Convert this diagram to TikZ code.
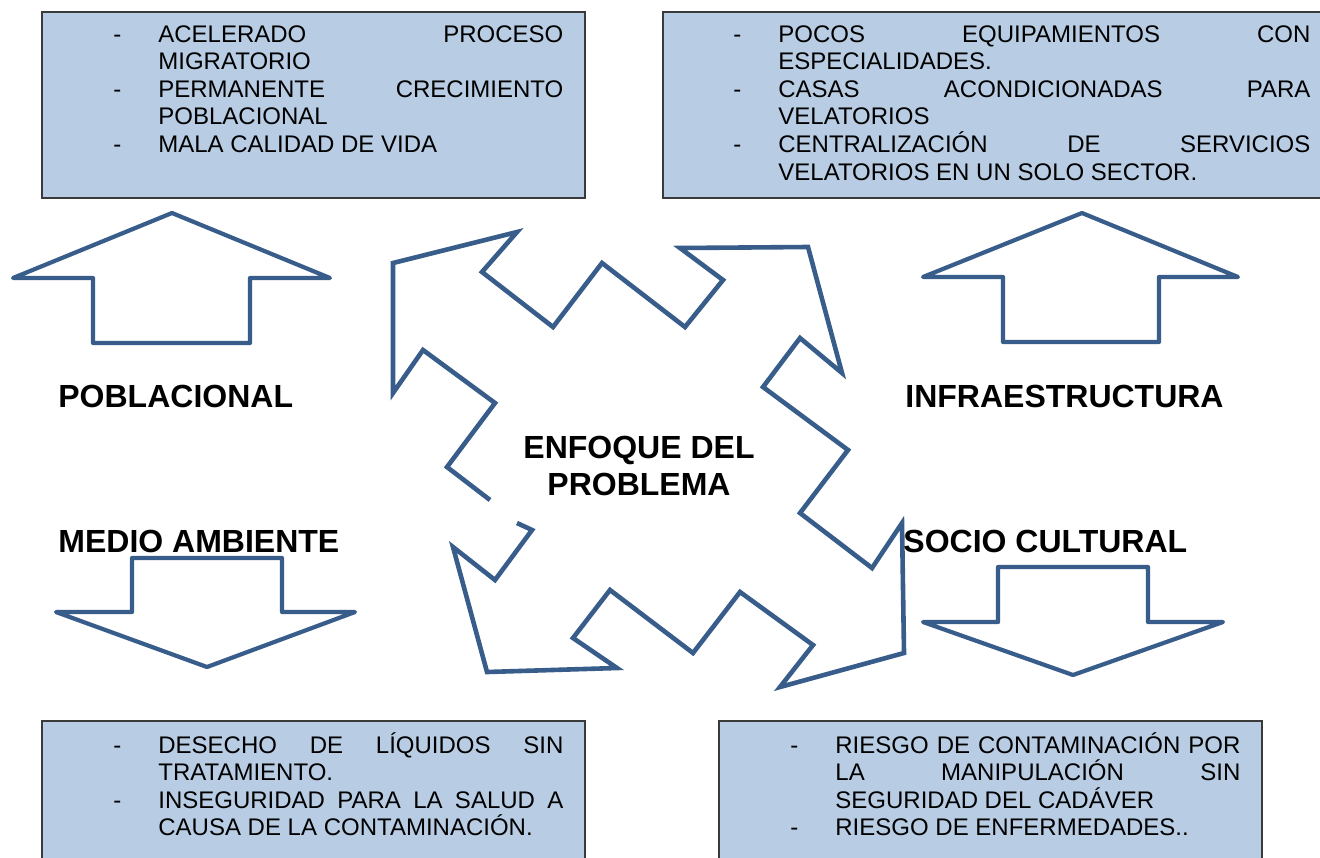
\documentclass[tikz,border=0pt]{standalone}
\usepackage{fontspec}
\setmainfont{Liberation Sans}
\definecolor{boxfill}{HTML}{B8CCE4}
\definecolor{starblue}{HTML}{385D8A}
\definecolor{boxline}{HTML}{3A3A3A}
\newcommand{\dashitem}{\par\noindent\hangindent=22.5pt\hangafter=1\makebox[22.5pt][l]{-}}
\newcommand{\looselines}{\tolerance=10000\relax\hyphenpenalty=10000\relax}
\begin{document}
\begin{tikzpicture}[x=0.5pt, y=-0.5pt,
    starline/.style={draw=starblue, line width=2.3pt, line join=miter},
    blockarrow/.style={draw=starblue, fill=white, line width=2.1pt, line join=round},
    infobox/.style={fill=boxfill, draw=boxline, line width=0.6pt},
    boxtext/.style={anchor=base west, inner sep=0pt, align=justify,
      font=\fontsize{12}{13.8}\selectfont},
    labeltext/.style={anchor=base west, inner sep=0pt, font=\fontsize{16}{18.4}\selectfont\bfseries}]
      \clip (0,0) rectangle (1320,857);
      \fill [white] (0,0) rectangle (1320,857);
      % boxes
      \draw [infobox] (42,12) rectangle (585,198);
      \draw [infobox] (663,12) rectangle (1335,198);
      \draw [infobox] (42,721) rectangle (585,870);
      \draw [infobox] (719,721) rectangle (1262,870);
      \node [boxtext, text width=225pt] (poblitems) at (113,42) {\looselines
        \noindent\hangindent=22.5pt\hangafter=1\makebox[22.5pt][l]{-}ACELERADO PROCESO\linebreak MIGRATORIO
        \dashitem PERMANENTE CRECIMIENTO\linebreak POBLACIONAL
        \dashitem MALA CALIDAD DE VIDA\par};
      \node [boxtext, text width=288.5pt] (infraitems) at (733,42) {\looselines
        \noindent\hangindent=22.5pt\hangafter=1\makebox[22.5pt][l]{-}POCOS EQUIPAMIENTOS CON\linebreak ESPECIALIDADES.
        \dashitem CASAS ACONDICIONADAS PARA\linebreak VELATORIOS
        \dashitem CENTRALIZACIÓN DE SERVICIOS\linebreak VELATORIOS EN UN SOLO SECTOR.\par};
      \node [boxtext, text width=225pt] (medioitems) at (113,753) {\looselines
        \noindent\hangindent=22.5pt\hangafter=1\makebox[22.5pt][l]{-}DESECHO DE LÍQUIDOS SIN\linebreak TRATAMIENTO.
        \dashitem INSEGURIDAD PARA LA SALUD A\linebreak CAUSA DE LA CONTAMINACIÓN.\par};
      \node [boxtext, text width=225pt] (socioitems) at (790,753) {\looselines
        \noindent\hangindent=22.5pt\hangafter=1\makebox[22.5pt][l]{-}RIESGO DE CONTAMINACIÓN POR\linebreak LA MANIPULACIÓN SIN\linebreak SEGURIDAD DEL CADÁVER
        \dashitem RIESGO DE ENFERMEDADES..\par};
      % block arrows
      \draw [blockarrow] (172,213) -- (330,278) -- (250,278) -- (250,343) -- (93,343) -- (93,278) -- (13,278) -- cycle;
      \draw [blockarrow] (1082,213) -- (1238,277) -- (1159,277) -- (1159,342) -- (1003,342) -- (1003,277) -- (923,277) -- cycle;
      \draw [blockarrow] (132,558) -- (282,558) -- (282,612) -- (355,612) -- (207,667) -- (56,612) -- (132,612) -- cycle;
      \draw [blockarrow] (998,567) -- (1148,567) -- (1148,622) -- (1223,622) -- (1073,675) -- (923,622) -- (998,622) -- cycle;
      % four-way arrow
      \draw [starline] (517,523) -- (532,530) -- (495,580) -- (453,547) -- (487,672) -- (617,668)
        -- (573,638) -- (610,590) -- (693,653) -- (740,592) -- (813,645) -- (780,687)
        -- (904,653) -- (902,523) -- (872,568) -- (800,513) -- (848,450) -- (763,387)
        -- (800,338) -- (842,373) -- (808,247) -- (680,248) -- (723,280) -- (685,327)
        -- (602,263) -- (553,327) -- (482,272) -- (517,232) -- (393,263) -- (393,393)
        -- (423,350) -- (495,403) -- (447,467) -- (490,500);
      \node [labeltext, anchor=base, align=center] (enfoque) at (639,495) {ENFOQUE DEL\\PROBLEMA};
      \node [labeltext] (poblacional) at (58,407) {POBLACIONAL};
      \node [labeltext] (infra) at (905,407) {INFRAESTRUCTURA};
      \node [labeltext] (medio) at (58,552) {MEDIO AMBIENTE};
      \node [labeltext] (socio) at (903,552) {SOCIO CULTURAL};
    \end{tikzpicture}
\end{document}
